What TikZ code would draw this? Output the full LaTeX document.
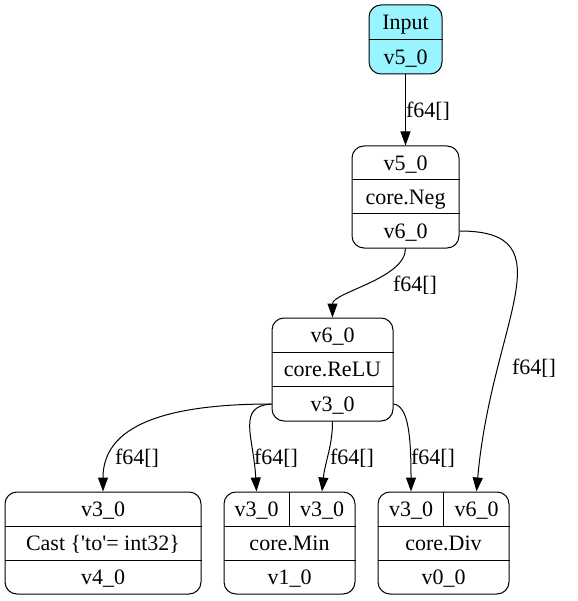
\documentclass[tikz,border=0pt]{standalone}
\usepackage{fontspec}
\setmainfont{Liberation Serif}
\usetikzlibrary{arrows.meta}
\definecolor{inputfill}{HTML}{98F5FF}

\tikzset{
  rec/.style={draw, line width=1pt, rounded corners=12pt, inner sep=0pt},
  lbl/.style={inner sep=0pt, font=\fontsize{22}{26}\selectfont,
              text height=16pt, text depth=1.4pt},
  sepline/.style={line width=1pt},
  flow/.style={line width=1pt, -{Triangle[length=14pt,width=10pt]}}
}

\begin{document}
\begin{tikzpicture}[x=1pt, y=-1pt]
\useasboundingbox (0,0) rectangle (577,601);

% ---- Input record ----
\node[rec, fill=inputfill, minimum width=73pt, minimum height=69pt] (input) at (405.5,39.5) {};
\draw[sepline] (input.west) -- (input.east);
\node[lbl] (inputName) at (405.5,22.5) {Input};
\node[lbl] (inputOut) at (405.5,57) {v5\_0};

% ---- core.Neg record ----
\node[rec, minimum width=107pt, minimum height=102pt] (neg) at (405.5,197) {};
\draw[sepline] ([yshift=17pt]neg.west) -- ([yshift=17pt]neg.east);
\draw[sepline] ([yshift=-17pt]neg.west) -- ([yshift=-17pt]neg.east);
\node[lbl] (negIn) at (405.5,163) {v5\_0};
\node[lbl] (negName) at (405.5,197) {core.Neg};
\node[lbl] (negOut) at (405.5,231) {v6\_0};

% ---- core.ReLU record ----
\node[rec, minimum width=121pt, minimum height=103pt] (relu) at (332.5,369.5) {};
\draw[sepline] ([yshift=17pt]relu.west) -- ([yshift=17pt]relu.east);
\draw[sepline] ([yshift=-17pt]relu.west) -- ([yshift=-17pt]relu.east);
\node[lbl] (reluIn) at (332.5,335) {v6\_0};
\node[lbl] (reluName) at (332.5,369.5) {core.ReLU};
\node[lbl] (reluOut) at (332.5,404) {v3\_0};

% ---- Cast record ----
\node[rec, minimum width=196pt, minimum height=102pt] (cast) at (103,543) {};
\draw[sepline] ([yshift=17pt]cast.west) -- ([yshift=17pt]cast.east);
\draw[sepline] ([yshift=-17pt]cast.west) -- ([yshift=-17pt]cast.east);
\node[lbl] (castIn) at (103,509) {v3\_0};
\node[lbl] (castName) at (103,543) {Cast \{\textquotesingle to\textquotesingle= int32\}};
\node[lbl] (castOut) at (103,577) {v4\_0};

% ---- core.Min record ----
\node[rec, minimum width=131pt, minimum height=102pt] (min) at (289.5,543) {};
\draw[sepline] ([yshift=17pt]min.west) -- ([yshift=17pt]min.east);
\draw[sepline] ([yshift=-17pt]min.west) -- ([yshift=-17pt]min.east);
\draw[sepline] (min.north) -- ([yshift=17pt]min.center);
\node[lbl] (minA) at (256.5,509) {v3\_0};
\node[lbl] (minB) at (322,509) {v3\_0};
\node[lbl] (minName) at (289.5,543) {core.Min};
\node[lbl] (minOut) at (289.5,577) {v1\_0};

% ---- core.Div record ----
\node[rec, minimum width=131pt, minimum height=102pt] (div) at (443.5,543) {};
\draw[sepline] ([yshift=17pt]div.west) -- ([yshift=17pt]div.east);
\draw[sepline] ([yshift=-17pt]div.west) -- ([yshift=-17pt]div.east);
\draw[sepline] (div.north) -- ([yshift=17pt]div.center);
\node[lbl] (divA) at (411,509) {v3\_0};
\node[lbl] (divB) at (476.5,509) {v6\_0};
\node[lbl] (divName) at (443.5,543) {core.Div};
\node[lbl] (divOut) at (443.5,577) {v0\_0};

% ---- connectors ----
\draw[flow] (input.south) -- (neg.north);
\draw[flow] (negOut |- neg.south) .. controls +(0,30) and +(0,-25) .. (relu.north);
\draw[flow] (neg.east |- negOut) .. controls +(110,0) and +(15,-170) .. (divB |- div.north);
\draw[flow] (relu.west |- reluOut) .. controls +(-120,0) and +(0,-60) .. (castIn |- cast.north);
\draw[flow] (relu.west |- reluOut) .. controls +(-35,2) and +(-3,-55) .. (minA |- min.north);
\draw[flow] (relu.south) .. controls +(0,25) and +(3,-30) .. (minB |- min.north);
\draw[flow] (relu.east |- reluOut) .. controls +(15,2) and +(0,-55) .. (divA |- div.north);

% ---- connector labels ----
\node[lbl] (tInputNeg) at (428,110) {f64[]};
\node[lbl] (tNegRelu) at (415,284) {f64[]};
\node[lbl] (tNegDiv) at (534,367) {f64[]};
\node[lbl] (tReluCast) at (137,457) {f64[]};
\node[lbl] (tReluMinA) at (276,457) {f64[]};
\node[lbl] (tReluMinB) at (352,457) {f64[]};
\node[lbl] (tReluDivA) at (433,457) {f64[]};
\end{tikzpicture}
\end{document}
